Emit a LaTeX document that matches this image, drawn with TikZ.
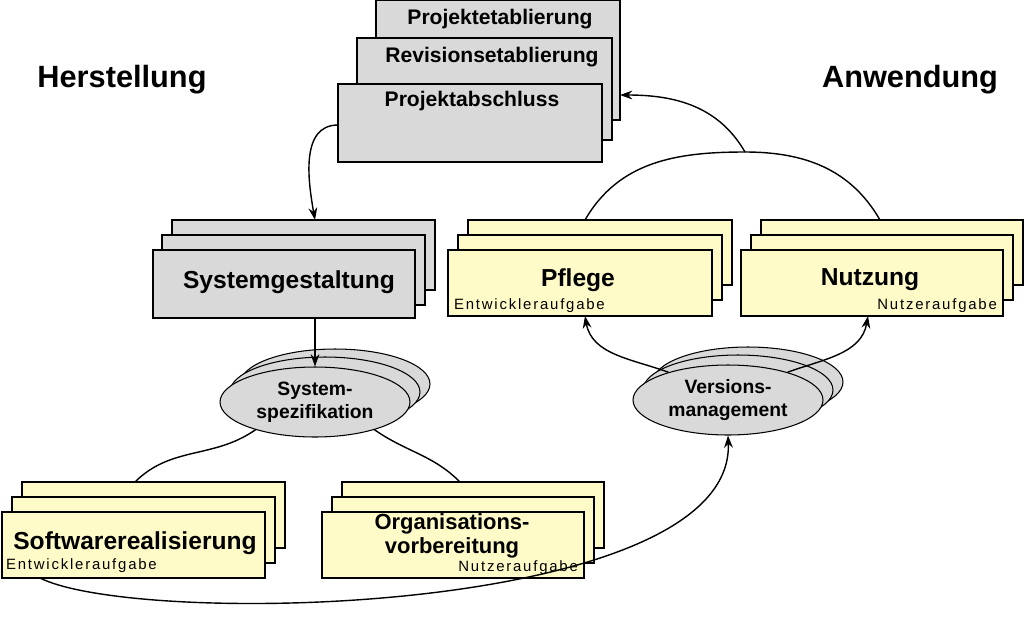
\documentclass[tikz,border=0pt]{standalone}
\usepackage{fontspec}
\setmainfont{Liberation Sans}
\usetikzlibrary{arrows.meta,shapes.geometric}
\definecolor{boxgray}{HTML}{D9D9D9}
\definecolor{boxyellow}{HTML}{FFFBC8}
\tikzset{
  card/.style={draw,line width=0.8pt,anchor=north west,inner sep=0pt},
  title/.style={font=\bfseries\fontsize{14}{16}\selectfont,align=center},
  toptitle/.style={font=\bfseries\fontsize{12}{14}\selectfont},
  ovaltitle/.style={font=\bfseries\fontsize{11}{13}\selectfont,align=center},
  small/.style={font=\fontsize{8.5}{10}\selectfont\addfontfeatures{LetterSpace=12},inner sep=1pt},
  head/.style={font=\bfseries\fontsize{17.5}{20}\selectfont},
  oval/.style={draw,ellipse,fill=boxgray,line width=0.6pt,minimum width=3.8cm,minimum height=1.4cm,inner sep=0pt},
  link/.style={line width=0.8pt},
  arr/.style={link,-{Stealth[length=7pt,width=5pt]}}
}
\begin{document}
\begin{tikzpicture}[x=0.02cm,y=-0.02cm]
\useasboundingbox (0,0) rectangle (1024,616);
% headings
\node[head] (herst) at (122,80) {Herstellung};
\node[head] (anw) at (910,80) {Anwendung};
% top stack
\draw[card,fill=boxgray] (376,0) rectangle (620,120);
\node[toptitle] (etab) at (500,19) {Projektetablierung};
\draw[card,fill=boxgray] (357,38) rectangle (612,140);
\node[toptitle] (rev) at (492,57) {Revisionsetablierung};
\draw[card,fill=boxgray] (338,84) rectangle (602,162);
\node[toptitle] (absch) at (472,101) {Projektabschluss};
\coordinate (abschL) at (338,125);
\coordinate (abschR) at (620,95);
% Systemgestaltung
\draw[card,fill=boxgray] (172,220) rectangle (435,290);
\draw[card,fill=boxgray] (162,235) rectangle (425,305);
\draw[card,fill=boxgray] (153,250) rectangle (415,318);
\node[title] (sysg) at (289,282) {Systemgestaltung};
\coordinate (sysgT) at (315,220);
\coordinate (sysgB) at (315,318);
% yellow stacks
\foreach \dx/\dy in {20/220,10/235} {
  \draw[card,fill=boxyellow] (448+\dx,\dy) rectangle (712+\dx,\dy+65);
  \draw[card,fill=boxyellow] (741+\dx,\dy) rectangle (1003+\dx,\dy+65);
  \draw[card,fill=boxyellow] (2+\dx,\dy+262) rectangle (265+\dx,\dy+328);
  \draw[card,fill=boxyellow] (322+\dx,\dy+262) rectangle (584+\dx,\dy+328);
}
\draw[card,fill=boxyellow] (448,250) rectangle (712,316);
\node[title] (pflege) at (578,280) {Pflege};
\node[small,anchor=west] (pflegeA) at (452,306) {Entwickleraufgabe};
\draw[card,fill=boxyellow] (741,250) rectangle (1003,316);
\node[title] (nutz) at (870,280) {Nutzung};
\node[small,anchor=east] (nutzA) at (999,306) {Nutzeraufgabe};
\draw[card,fill=boxyellow] (2,512) rectangle (265,578);
\node[title] (soft) at (135,543) {Softwarerealisierung};
\node[small,anchor=west] (softA) at (4,566) {Entwickleraufgabe};
\draw[card,fill=boxyellow] (322,512) rectangle (584,578);
\node[title,font=\bfseries\fontsize{12.5}{14}\selectfont] (org) at (452,536) {Organisations-\\vorbereitung};
\node[small,anchor=east] (orgA) at (580,568) {Nutzeraufgabe};
% ellipses
\node[oval] at (335,384) {};
\node[oval] at (325,392) {};
\node[oval,ovaltitle] (spez) at (315,402) {System-\\spezifikation};
\node[oval] at (748,382) {};
\node[oval] at (738,390) {};
\node[oval,ovaltitle] (vers) at (728,400) {Versions-\\management};
% connectors
\draw[arr] (abschL) to[out=180,in=100,looseness=1] (sysgT);
\draw[arr] (sysgB) -- (spez.north);
\draw[link] (spez.205) to[out=215,in=45] (135,482);
\draw[link] (spez.-25) to[out=-35,in=135] (460,482);
\coordinate (peak) at (745,152);
\draw[link] (585,220) to[out=60,in=180] (peak) to[out=0,in=120] (880,220);
\draw[arr] (peak) to[out=120,in=0] (abschR);
\draw[arr] (vers.155) to[out=160,in=-80] (585,316);
\draw[arr] (vers.25) to[out=20,in=-100] (868,316);
\draw[arr] (40,578) .. controls (140,628) and (735,615) .. (vers.south);
\end{tikzpicture}
\end{document}
